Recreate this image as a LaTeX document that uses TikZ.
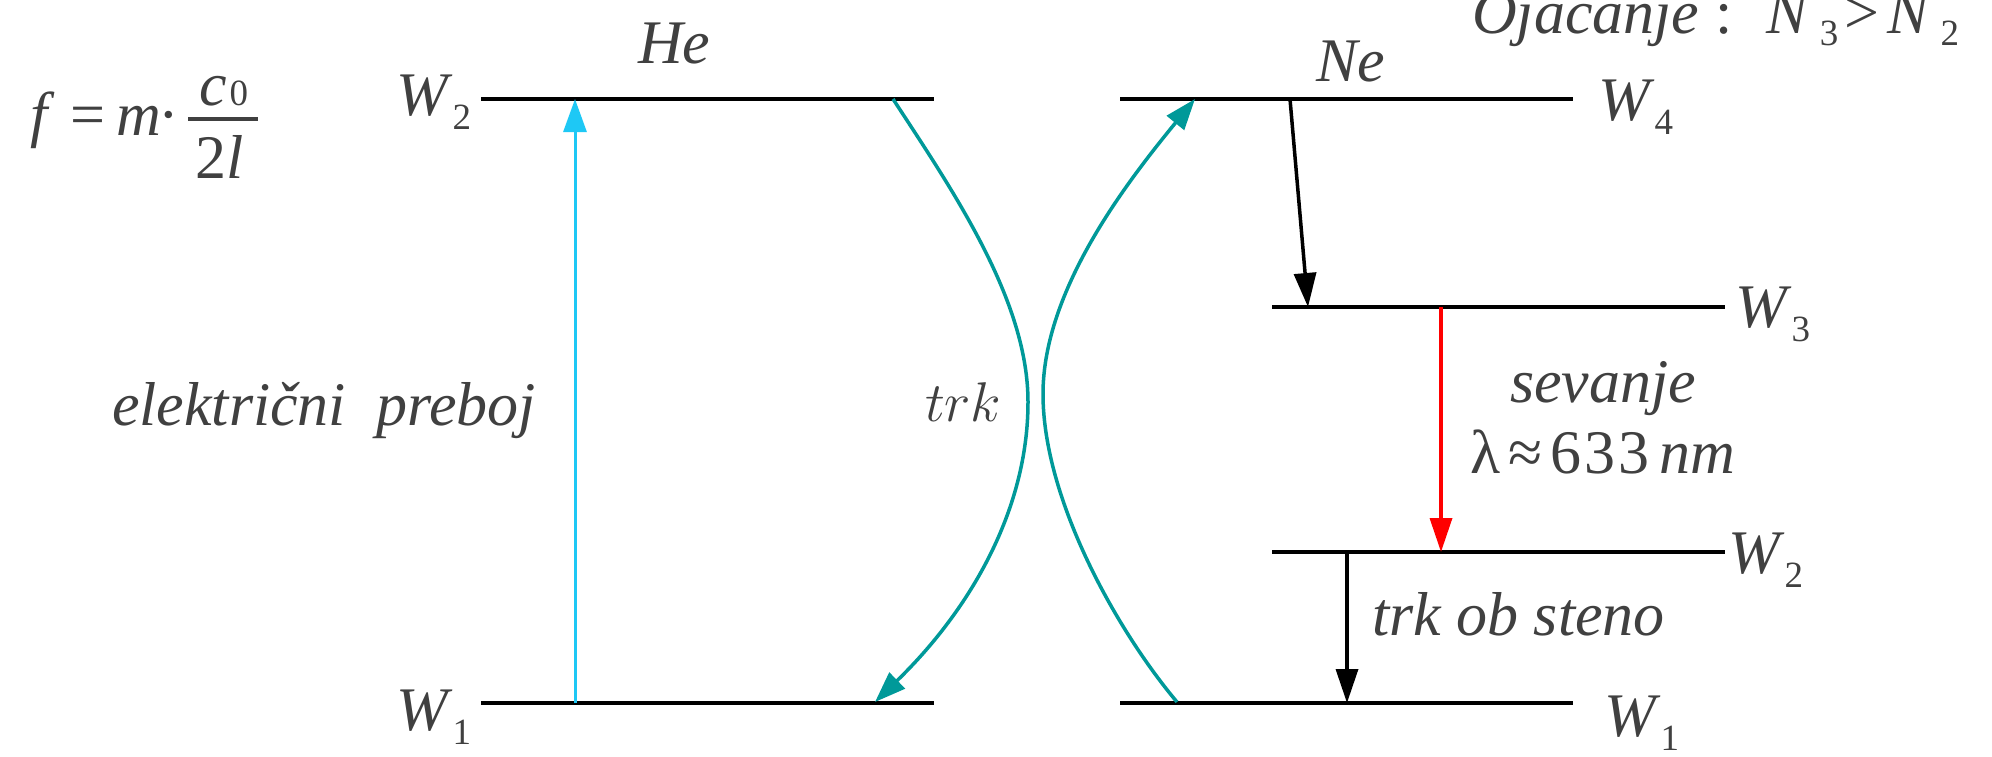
\RequirePackage{fix-cm}
\documentclass[tikz,border=0pt]{standalone}
\usepackage{fontspec}
\setmainfont{Liberation Serif}
\usetikzlibrary{arrows.meta}
\definecolor{txt}{HTML}{404040}
\definecolor{tealc}{HTML}{009999}
\definecolor{cyanc}{HTML}{1EC8F5}
\newcommand\Wlab[1]{W\kern5pt\raisebox{-14pt}[0pt][0pt]{\fontsize{37}{40}\selectfont\upshape #1}}
\newcommand\Nlab[1]{N\kern12pt\raisebox{-12pt}[0pt][0pt]{\fontsize{37}{40}\selectfont\upshape #1}}
\tikzset{
  level/.style={line width=3.8pt, draw=black},
  conn/.style={line width=3.5pt, -{Triangle[length=34pt,width=22pt]}},
  lbl/.style={anchor=base west, inner sep=0pt, outer sep=0pt, text=txt,
    font=\fontsize{62}{68}\selectfont\itshape},
  up/.style={font=\fontsize{62}{68}\selectfont\upshape},
}
\begin{document}
\begin{tikzpicture}[x=1pt,y=-1pt]
\useasboundingbox (0,0) rectangle (1992,756);
% level end points
\coordinate (he2a) at (481,99);  \coordinate (he2b) at (934,99);
\coordinate (he1a) at (481,703); \coordinate (he1b) at (934,703);
\coordinate (ne4a) at (1120,99); \coordinate (ne4b) at (1573,99);
\coordinate (ne3a) at (1272,307); \coordinate (ne3b) at (1725,307);
\coordinate (ne2a) at (1272,552); \coordinate (ne2b) at (1725,552);
\coordinate (ne1a) at (1120,703); \coordinate (ne1b) at (1573,703);
\draw[level] (he2a) -- (he2b);
\draw[level] (he1a) -- (he1b);
\draw[level] (ne4a) -- (ne4b);
\draw[level] (ne3a) -- (ne3b);
\draw[level] (ne2a) -- (ne2b);
\draw[level] (ne1a) -- (ne1b);
% arrow end points
\coordinate (cy1) at (575,703); \coordinate (cy2) at (575,99);
\coordinate (th1) at (893,99);  \coordinate (th2) at (875,702);
\coordinate (tn1) at (1177,702); \coordinate (tn2) at (1195,99);
\coordinate (b1a) at (1290,99);  \coordinate (b1b) at (1308,307);
\coordinate (r1a) at (1441,307); \coordinate (r1b) at (1441,552);
\coordinate (b2a) at (1347,552); \coordinate (b2b) at (1347,703);
\draw[conn, cyanc, line width=3pt, -{Triangle[length=33pt,width=23pt]}] (cy1) -- (cy2);
\draw[conn, tealc, -{Triangle[length=31pt,width=22pt]}] (th1) .. controls (953,191) and (1028,300) .. (1028,402)
   .. controls (1028,510) and (970,610) .. (th2);
\draw[conn, tealc, -{Triangle[length=31pt,width=22pt]}] (tn1) .. controls (1118,632) and (1043,500) .. (1043,394)
   .. controls (1043,290) and (1127,182) .. (tn2);
\draw[conn, black] (b1a) -- (b1b);
\draw[conn, red] (r1a) -- (r1b);
\draw[conn, black] (b2a) -- (b2b);
% labels
\node[lbl] (W2L) at (396,115) {\Wlab{2}};
\node[lbl] (W1L) at (396,730) {\Wlab{1}};
\node[lbl] (W4R) at (1598,120) {\Wlab{4}};
\node[lbl] (W3R) at (1735,327) {\Wlab{3}};
\node[lbl] (W2R) at (1728,573) {\Wlab{2}};
\node[lbl] (W1R) at (1604,736) {\Wlab{1}};
\node[lbl] (He) at (638,63) {He};
\node[lbl] (Ne) at (1316,81) {Ne};
\node[lbl] (prb) at (112,425) {električni\kern30pt preboj};
\node[lbl, font=\fontsize{56}{60}\selectfont] (trk) at (925,421) {$trk$};
\node[lbl] (sev) at (1510,402) {sevanje};
\node[lbl] (lam) at (1470,473) {{\upshape λ\kern8pt≈\kern8pt 6\kern3pt3\kern3pt3}\kern10pt nm};
\node[lbl] (tos) at (1372,635) {trk ob steno};
\node[lbl] (ojc) at (1472,33) {Ojačanje\kern16pt{\upshape :}\kern34pt\Nlab{3}\kern6pt{\upshape >}\kern8pt\Nlab{2}};
% formula
\node[lbl] (ff) at (30,135) {f};
\node[lbl, up] (feq) at (70,135) {=};
\node[lbl] (fm) at (116,135) {m};
\node[lbl, up] (fdot) at (158,135) {·};
\coordinate (fb1) at (188,119); \coordinate (fb2) at (258,119);
\draw[txt, line width=3.5pt] (fb1) -- (fb2);
\node[lbl] (fc) at (199,105) {c\kern3pt{\fontsize{37}{40}\selectfont\upshape 0}};
\node[lbl] (f2l) at (195,178) {{\upshape 2}l};
\end{tikzpicture}
\end{document}
